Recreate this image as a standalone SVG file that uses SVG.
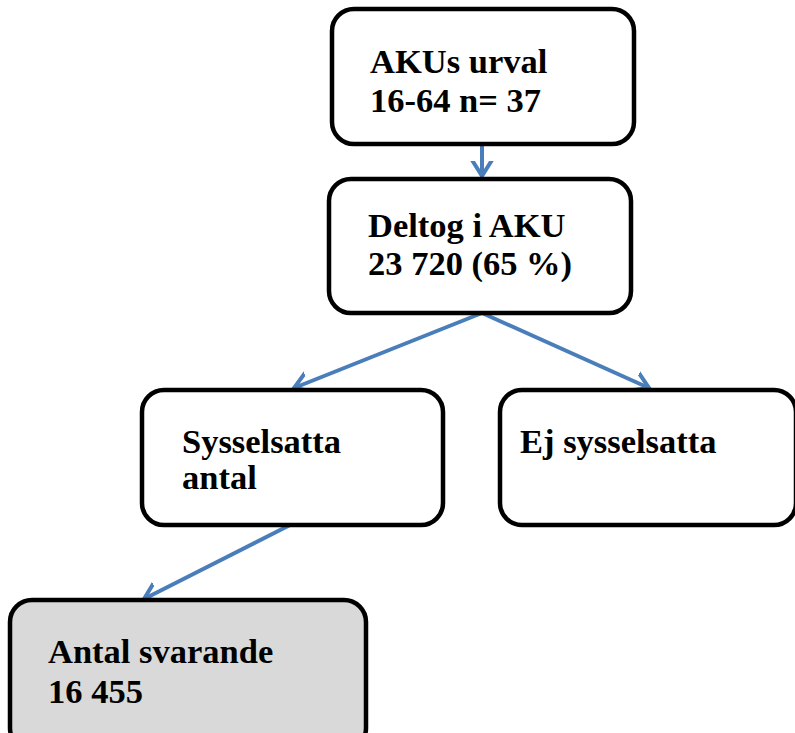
<svg xmlns="http://www.w3.org/2000/svg" width="795" height="733" viewBox="0 0 795 733">
<style>
.box{fill:#ffffff;stroke:#000000;stroke-width:4.5}
.grey{fill:#d9d9d9}
.t{font-family:"Liberation Serif","Times New Roman",serif;font-weight:bold;font-size:34.5px;fill:#000000}
.c{fill:none;stroke:#4a7ebb;stroke-width:4}
</style>
<defs>
<marker id="arr" markerUnits="userSpaceOnUse" markerWidth="30" markerHeight="30" viewBox="-15 -15 30 30" refX="0" refY="0" orient="auto">
<path d="M-16,-10 L0,0 L-16,10" fill="none" stroke="#4a7ebb" stroke-width="4" stroke-linejoin="miter"/>
</marker>
</defs>
<rect x="0" y="0" width="795" height="733" fill="#ffffff"/>
<g id="connectors">
<line class="c" x1="482" y1="146" x2="482" y2="176" marker-end="url(#arr)"/>
<line class="c" x1="482" y1="313" x2="294" y2="388" marker-end="url(#arr)"/>
<line class="c" x1="482" y1="313" x2="649" y2="388" marker-end="url(#arr)"/>
<line class="c" x1="292" y1="524" x2="144" y2="599" marker-end="url(#arr)"/>
</g>
<g id="n1">
<rect class="box" x="332" y="9" width="302" height="135" rx="22"/>
<text class="t" x="370" y="73">AKUs urval</text>
<text class="t" x="370" y="112">16-64 n= 37</text>
</g>
<g id="n2">
<rect class="box" x="329" y="179" width="302" height="134" rx="22"/>
<text class="t" x="368" y="237">Deltog i AKU</text>
<text class="t" x="368" y="275">23 720 (65 %)</text>
</g>
<g id="n3">
<rect class="box" x="142" y="390" width="301" height="135" rx="22"/>
<text class="t" x="182" y="453">Sysselsatta</text>
<text class="t" x="182" y="489">antal</text>
</g>
<g id="n4">
<rect class="box" x="500" y="390" width="296" height="135" rx="22"/>
<text class="t" x="520" y="453">Ej sysselsatta</text>
</g>
<g id="n5">
<rect class="box grey" x="10" y="600" width="356" height="150" rx="22"/>
<text class="t" x="48" y="663">Antal svarande</text>
<text class="t" x="48" y="703">16 455</text>
</g>
</svg>
